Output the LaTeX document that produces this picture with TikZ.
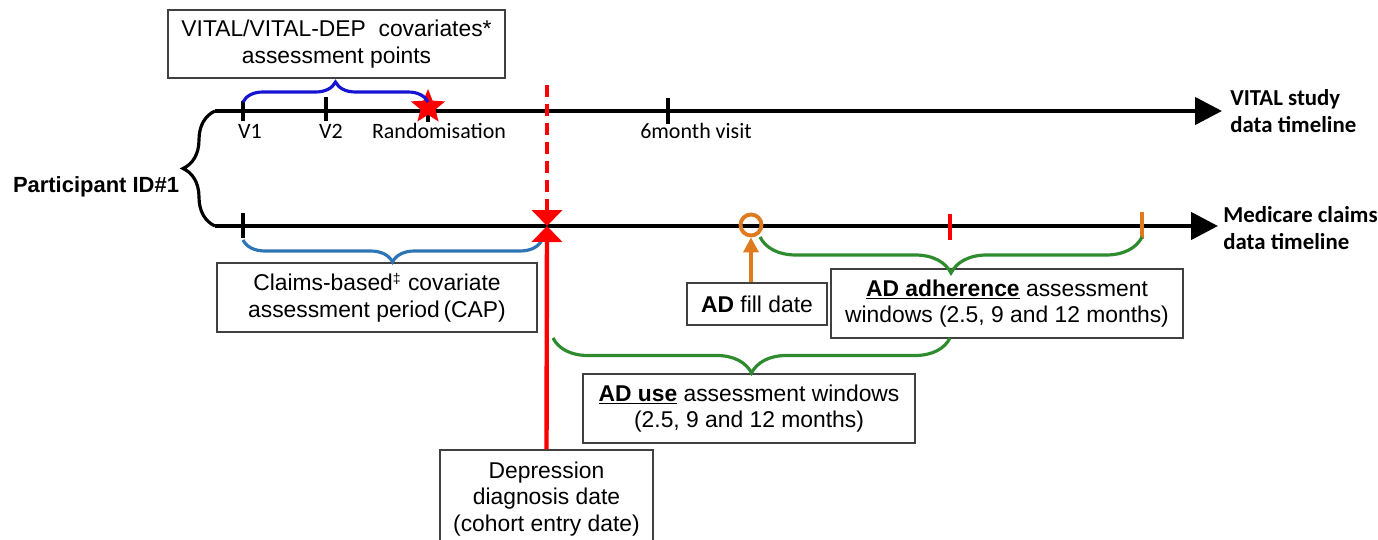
\documentclass[tikz,border=0pt]{standalone}
\usepackage{fontspec}
\setmainfont{Liberation Sans}
\newfontfamily\calibri{Carlito}
\usetikzlibrary{backgrounds,
	arrows.meta,
	shapes.geometric,
	decorations.pathreplacing
}
\definecolor{vitalblue}{HTML}{1414D2}
\definecolor{capblue}{HTML}{2E75B6}
\definecolor{windowgreen}{HTML}{2E8B2E}
\definecolor{adfill}{HTML}{E07A1F}
\tikzset{
	box/.style={draw=black!75,line width=0.8pt,align=center,inner sep=0pt,font=\fontsize{13}{15.2}\selectfont},
	timeline/.style={line width=2.5pt,-{Triangle[length=0.54cm,width=0.54cm]}},
	tickline/.style={line width=1.8pt},
	curly/.style={decorate,decoration={brace,amplitude=#1},line width=1.8pt},
	ticklabel/.style={inner sep=0pt,font=\calibri\fontsize{12.5}{14}\selectfont},
	linelabel/.style={inner sep=0pt,anchor=west,align=left,font=\calibri\bfseries\fontsize{13}{15.4}\selectfont},
}

\begin{document}
\begin{tikzpicture}[x=0.02cm,y=-0.02cm,background rectangle/.style={fill=white},inner frame sep=0pt,show background rectangle]
		\useasboundingbox (0,0) rectangle (1378,540);
		% timelines
		\coordinate (S1) at (215,111);
		\coordinate (E1) at (1222,111);
		\coordinate (S2) at (215,226);
		\coordinate (E2) at (1218,226);
		\coordinate (D) at (547,226);
		%
		\draw[curly=0.64cm] (S2) -- (S1);
		\draw[timeline] (S1) -- (E1);
		\draw[timeline] (S2) -- (E2);
		\node[font=\bfseries\fontsize{12.5}{15}\selectfont] (pid) at (96,187) {Participant ID\#1};
		\node[linelabel] (vitalline) at (1230,111) {VITAL study\\data timeline};
		\node[linelabel] (medicareline) at (1223,228) {Medicare claims\\data timeline};
		%
		\draw[tickline] (243,101) -- (243,121);
		\draw[tickline] (326,97) -- (326,121);
		\draw[tickline] (428,100) -- (428,122);
		\draw[tickline] (668,98) -- (668,124);
		\draw[tickline] (243,213) -- (243,238);
		\node[star,star points=5,star point ratio=2.3,fill=red,minimum size=0.72cm,inner sep=0pt] (rand) at (428,107) {};
		\node[ticklabel] (v1) at (250,131) {V1};
		\node[ticklabel] (v2) at (331,131) {V2};
		\node[ticklabel] (randlabel) at (439,131) {Randomisation};
		\node[ticklabel] (sixmonth) at (696,131) {6month\ visit};
		%
		\node[box,minimum width=6.74cm,minimum height=1.36cm] (cov) at (336.5,44) {VITAL/VITAL-DEP\ \ covariates*\\assessment points};
		\draw[curly=0.4cm,vitalblue] (243,102) -- (428,102);
		%
		\node[box,minimum width=6.4cm,minimum height=1.38cm] (capbox) at (377,297.5) {Claims-based\textsuperscript{\fontsize{8}{8}\selectfont ‡} covariate\\assessment period\,(CAP)};
		\draw[curly=0.44cm,capblue] (542,240) -- (243,240);
		%
		\node[box,minimum width=4.26cm,minimum height=1.96cm] (dep) at (546.5,499) {Depression\\diagnosis date\\(cohort entry date)};
		\draw[red,line width=2.5pt,dash pattern=on 0.24cm off 0.14cm] (547,85) -- (547,208);
		\draw[red,line width=2.5pt,-{Triangle[length=0.32cm,width=0.6cm]}] (547,206) -- (D);
		\draw[red,line width=2.5pt,-{Triangle[length=0.32cm,width=0.6cm]}] (dep.north) -- (D);
		%
		\node[circle,draw=adfill,line width=2.2pt,minimum size=0.42cm,inner sep=0pt] (ring) at (751,225) {};
		\node[box,minimum width=2.8cm,minimum height=0.84cm] (filldate) at (757,304) {\textbf{AD} fill date};
		\draw[adfill,line width=2pt,-{Triangle[length=0.3cm,width=0.3cm]}] (filldate.north -| ring) -- (ring.south);
		\draw[red,line width=2.5pt] (950,214) -- (950,240);
		\draw[adfill,line width=2.5pt] (1142,212) -- (1142,239);
		%
		\node[box,minimum width=7.04cm,minimum height=1.38cm] (adhere) at (1007,303.5) {\underline{\textbf{AD adherence}} assessment\\windows (2.5,\ 9 and\ 12 months)};
		\draw[curly=0.72cm,windowgreen] (1142,237) -- (760,237);
		%
		\node[box,minimum width=6.64cm,minimum height=1.38cm] (use) at (749,408.5) {\underline{\textbf{AD use}} assessment windows\\(2.5, 9 and 12 months)};
		\draw[curly=0.7cm,windowgreen] (950,338) -- (553,338);
	\end{tikzpicture}
\end{document}
